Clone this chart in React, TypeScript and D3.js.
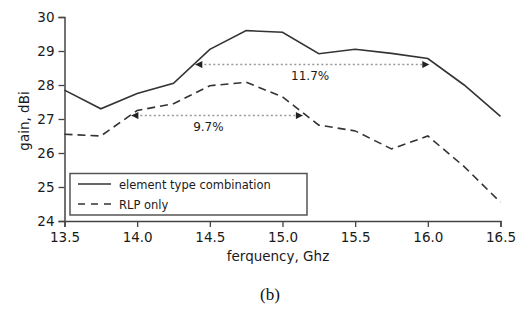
import React, { useEffect, useRef } from "react";
import * as d3 from "d3";

// frequency, GHz
const freq = [13.5, 13.75, 14.0, 14.25, 14.5, 14.75, 15.0, 15.25, 15.5, 15.75, 16.0, 16.25, 16.5];
// gain, dBi
const combination = [27.85, 27.3, 27.75, 28.05, 29.05, 29.6, 29.55, 28.92, 29.05, 28.93, 28.78, 28.0, 27.08];
const rlpOnly = [26.55, 26.5, 27.25, 27.45, 27.98, 28.08, 27.65, 26.82, 26.65, 26.12, 26.5, 25.6, 24.55];

const xTicks = [13.5, 14.0, 14.5, 15.0, 15.5, 16.0, 16.5];
const yTicks = [24, 25, 26, 27, 28, 29, 30];

const seriesNames = ["element type combination", "RLP only"];

// bandwidth arrows: start, end, level, label
const bandStart = [14.4, 13.96];
const bandEnd = [16.01, 15.14];
const bandLevel = [28.6, 27.1];
const bandLabel = ["11.7%", "9.7%"];
const bandLabelX = [15.19, 14.49];
const bandLabelY = [28.3, 26.8];

const App = () => {
  const svgRef = useRef<SVGSVGElement>(null);

  useEffect(() => {
    const width = 531;
    const height = 309;
    const svg = d3.select(svgRef.current);
    svg.selectAll("*").remove();
    svg.attr("width", width).attr("height", height);

    const font = "DejaVu Sans, sans-serif";
    const ink = "#333";

    const x = d3.scaleLinear().domain([13.5, 16.5]).range([64.5, 500.5]);
    const y = d3.scaleLinear().domain([24, 30]).range([221, 17]);

    // arrowhead marker
    const defs = svg.append("defs");
    defs.append("marker")
      .attr("id", "head")
      .attr("viewBox", "0 0 10 10")
      .attr("refX", 10)
      .attr("refY", 5)
      .attr("markerWidth", 9)
      .attr("markerHeight", 7)
      .attr("markerUnits", "userSpaceOnUse")
      .attr("orient", "auto-start-reverse")
      .append("path")
      .attr("d", "M0,0 L10,5 L0,10 Z")
      .attr("fill", "#222");

    // X axis
    const xAxis = svg.append("g").attr("transform", `translate(0,${y(24)})`);
    xAxis.call(
      d3.axisBottom(x)
        .tickValues(d3.range(13.5, 16.51, 0.25))
        .tickSize(3)
        .tickFormat(() => "")
    );
    xAxis.call(
      d3.axisBottom(x)
        .tickValues(xTicks)
        .tickSize(6)
        .tickPadding(5)
        .tickFormat(d3.format(".1f"))
    );
    xAxis.selectAll(".domain").attr("stroke", "#444").attr("stroke-width", 1.5);
    xAxis.selectAll(".tick line").attr("stroke", "#444").attr("stroke-width", 1.3);
    xAxis.selectAll("text")
      .attr("fill", "#1a1a1a")
      .style("font-family", font)
      .style("font-size", "13.5px");

    // Y axis
    const yAxis = svg.append("g").attr("transform", `translate(${x(13.5)},0)`);
    yAxis.call(
      d3.axisLeft(y)
        .tickValues(d3.range(24, 30.01, 0.5))
        .tickSize(3)
        .tickFormat(() => "")
    );
    yAxis.call(
      d3.axisLeft(y)
        .tickValues(yTicks)
        .tickSize(6)
        .tickPadding(4)
        .tickFormat(d3.format("d"))
    );
    yAxis.selectAll(".domain").attr("stroke", "#444").attr("stroke-width", 1.5);
    yAxis.selectAll(".tick line").attr("stroke", "#444").attr("stroke-width", 1.3);
    yAxis.selectAll("text")
      .attr("fill", "#1a1a1a")
      .style("font-family", font)
      .style("font-size", "13.5px");

    // axis titles
    svg.append("text")
      .attr("x", 278)
      .attr("y", 261)
      .attr("text-anchor", "middle")
      .attr("fill", "#1a1a1a")
      .style("font-family", font)
      .style("font-size", "13.5px")
      .text("ferquency, Ghz");

    svg.append("text")
      .attr("transform", "rotate(-90)")
      .attr("x", -121)
      .attr("y", 29)
      .attr("text-anchor", "middle")
      .attr("fill", "#1a1a1a")
      .style("font-family", font)
      .style("font-size", "13.5px")
      .text("gain, dBi");

    // lines
    const line = d3.line<number>()
      .x((_, i) => x(freq[i]))
      .y(d => y(d));

    svg.append("path")
      .datum(combination)
      .attr("d", line)
      .attr("fill", "none")
      .attr("stroke", ink)
      .attr("stroke-width", 1.6);

    svg.append("path")
      .datum(rlpOnly)
      .attr("d", line)
      .attr("fill", "none")
      .attr("stroke", ink)
      .attr("stroke-width", 1.6)
      .attr("stroke-dasharray", "8,5");

    // bandwidth arrows
    bandLabel.forEach((label, i) => {
      svg.append("line")
        .attr("x1", x(bandStart[i]))
        .attr("x2", x(bandEnd[i]))
        .attr("y1", y(bandLevel[i]))
        .attr("y2", y(bandLevel[i]))
        .attr("stroke", "#999")
        .attr("stroke-width", 1.5)
        .attr("stroke-dasharray", "2,2.5")
        .attr("marker-start", "url(#head)")
        .attr("marker-end", "url(#head)");

      svg.append("text")
        .attr("x", x(bandLabelX[i]))
        .attr("y", y(bandLabelY[i]) + 5)
        .attr("text-anchor", "middle")
        .attr("fill", "#1a1a1a")
        .style("font-family", font)
        .style("font-size", "12px")
        .text(label);
    });

    // legend
    const legend = svg.append("g");
    legend.append("rect")
      .attr("x", 70)
      .attr("y", 173.5)
      .attr("width", 237)
      .attr("height", 41.5)
      .attr("fill", "white")
      .attr("stroke", "#555")
      .attr("stroke-width", 1.5);

    seriesNames.forEach((name, i) => {
      const ly = 184 + i * 20;
      legend.append("line")
        .attr("x1", 78)
        .attr("x2", 111)
        .attr("y1", ly)
        .attr("y2", ly)
        .attr("stroke", ink)
        .attr("stroke-width", 1.6)
        .attr("stroke-dasharray", i === 0 ? null : "7,6");
      legend.append("text")
        .attr("x", 119)
        .attr("y", ly + 4.5)
        .attr("fill", "#1a1a1a")
        .style("font-family", font)
        .style("font-size", "11.5px")
        .text(name);
    });

    // caption
    svg.append("text")
      .attr("x", 270)
      .attr("y", 300)
      .attr("text-anchor", "middle")
      .attr("fill", "#111")
      .style("font-family", "Liberation Serif, serif")
      .style("font-size", "17px")
      .text("(b)");
  }, []);

  return (
    <div style={{ position: "absolute", left: 0, top: 0 }}>
      <svg ref={svgRef}></svg>
    </div>
  );
};

export default App;
